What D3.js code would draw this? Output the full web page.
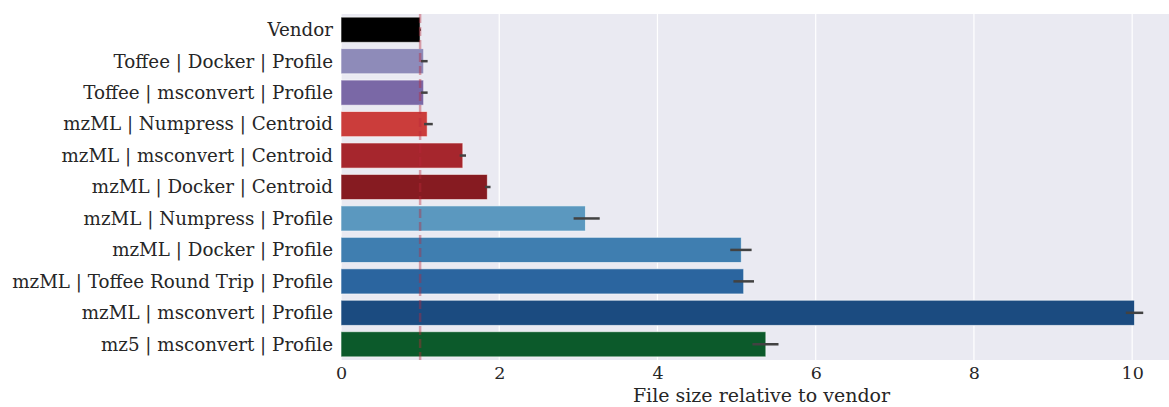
<!DOCTYPE html>
<html>
<head>
<meta charset="utf-8">
<script src="https://cdn.jsdelivr.net/npm/d3@7"></script>
<style>
  html, body { margin: 0; padding: 0; background: #fff; }
  svg { display: block; }
  text { font-family: "DejaVu Serif", serif; fill: #262626; }
</style>
</head>
<body>
<div id="chart"></div>
<script>
// Storage method per row (format | tool | mode)
const categories = [
  "Vendor",
  "Toffee | Docker | Profile",
  "Toffee | msconvert | Profile",
  "mzML | Numpress | Centroid",
  "mzML | msconvert | Centroid",
  "mzML | Docker | Centroid",
  "mzML | Numpress | Profile",
  "mzML | Docker | Profile",
  "mzML | Toffee Round Trip | Profile",
  "mzML | msconvert | Profile",
  "mz5 | msconvert | Profile"
];
// Mean file size relative to vendor and its confidence interval
const means = [1.0, 1.045, 1.045, 1.09, 1.54, 1.85, 3.09, 5.06, 5.09, 10.03, 5.37];
const ciLow = [0.99, 1.01, 1.01, 1.05, 1.50, 1.82, 2.94, 4.92, 4.96, 9.92, 5.20];
const ciHigh = [1.01, 1.095, 1.095, 1.16, 1.58, 1.89, 3.27, 5.19, 5.22, 10.14, 5.53];
const barColors = [
  "#000000", "#8e8bb9", "#7a68a6", "#cb3d3b", "#a6262d", "#861b21",
  "#5b98bf", "#3f7eb0", "#2b659f", "#1b4b80", "#0c5a2b"
];
const xTicks = [0, 2, 4, 6, 8, 10];
const referenceValue = 1;
const xLabel = "File size relative to vendor";

const W = 1169, H = 407;
const margin = { left: 341, top: 14, bottom: 47 };
const plotRight = 1182;

const svg = d3.select("#chart").append("svg")
  .attr("width", W).attr("height", H);

const x = d3.scaleLinear().domain([0, 10.63]).range([margin.left, plotRight]);
const y = d3.scaleBand().domain(categories)
  .range([margin.top, H - margin.bottom]).paddingInner(0.2).paddingOuter(0.1);

// darkgrid background
svg.append("rect")
  .attr("x", margin.left).attr("y", margin.top)
  .attr("width", plotRight - margin.left).attr("height", H - margin.bottom - margin.top)
  .attr("fill", "#eaeaf2");

// vertical grid lines
svg.append("g").selectAll("line").data(xTicks).join("line")
  .attr("x1", d => x(d)).attr("x2", d => x(d))
  .attr("y1", margin.top).attr("y2", H - margin.bottom)
  .attr("stroke", "#fff").attr("stroke-width", 1.2);

// bars
svg.append("g").selectAll("rect").data(categories).join("rect")
  .attr("x", x(0))
  .attr("y", d => y(d))
  .attr("width", (d, i) => x(means[i]) - x(0))
  .attr("height", y.bandwidth())
  .attr("fill", (d, i) => barColors[i])
  .attr("stroke", "#ffffff").attr("stroke-opacity", 0.6).attr("stroke-width", 1);

// confidence intervals
svg.append("g").selectAll("line").data(categories).join("line")
  .attr("x1", (d, i) => x(ciLow[i])).attr("x2", (d, i) => x(ciHigh[i]))
  .attr("y1", d => y(d) + y.bandwidth() / 2).attr("y2", d => y(d) + y.bandwidth() / 2)
  .attr("stroke", "#424242").attr("stroke-width", 2.5);

// reference line at vendor size
svg.append("line")
  .attr("x1", x(referenceValue)).attr("x2", x(referenceValue))
  .attr("y1", margin.top).attr("y2", H - margin.bottom)
  .attr("stroke", "#b8283a").attr("stroke-opacity", 0.4)
  .attr("stroke-width", 2.5).attr("stroke-dasharray", "9,4");

// y labels
svg.append("g").selectAll("text").data(categories).join("text")
  .attr("x", margin.left - 8)
  .attr("y", d => y(d) + y.bandwidth() / 2)
  .attr("dy", "0.35em")
  .attr("text-anchor", "end")
  .attr("font-size", 18.3)
  .text(d => d);

// x axis
const xAxis = d3.axisBottom(x).tickValues(xTicks).tickSize(0).tickPadding(7)
  .tickFormat(d3.format("d"));
const gx = svg.append("g").attr("transform", `translate(0,${H - margin.bottom})`).call(xAxis);
gx.select(".domain").remove();
gx.selectAll("text").attr("font-size", 17.5).attr("font-family", "DejaVu Serif, serif").attr("fill", "#262626");

svg.append("text")
  .attr("x", (margin.left + plotRight) / 2)
  .attr("y", 402)
  .attr("text-anchor", "middle")
  .attr("font-size", 19)
  .text(xLabel);
</script>
</body>
</html>
